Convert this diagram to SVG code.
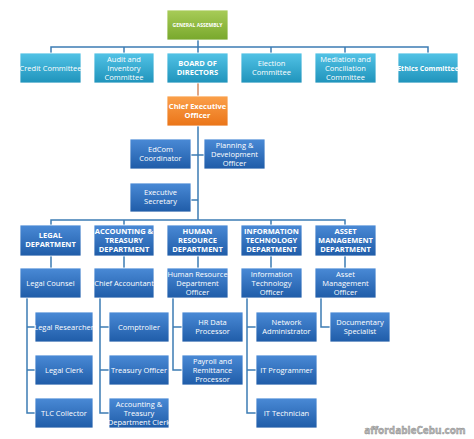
<svg xmlns="http://www.w3.org/2000/svg" width="474" height="439" viewBox="0 0 474 439">
<defs>
<linearGradient id="gc" x1="0" y1="0" x2="0" y2="1"><stop offset="0" stop-color="#52c3e6"/><stop offset="1" stop-color="#1f93bb"/></linearGradient>
<linearGradient id="gb" x1="0" y1="0" x2="0" y2="1"><stop offset="0" stop-color="#4a8ad6"/><stop offset="1" stop-color="#1f5ca8"/></linearGradient>
<linearGradient id="go" x1="0" y1="0" x2="0" y2="1"><stop offset="0" stop-color="#fba04a"/><stop offset="1" stop-color="#ea7418"/></linearGradient>
<linearGradient id="gg" x1="0" y1="0" x2="0" y2="1"><stop offset="0" stop-color="#a8cc58"/><stop offset="1" stop-color="#78a82c"/></linearGradient>
</defs>
<style>
rect{stroke:#ffffff;stroke-width:0.8}
.c{fill:url(#gc)}.b{fill:url(#gb)}
text{font-family:"Open Sans","DejaVu Sans",sans-serif;font-size:7.5px;fill:#ffffff;text-anchor:middle}
.t{font-weight:bold}
#connectors path{fill:none;stroke:#3c7cb4;stroke-width:1.5}
</style>
<rect width="474" height="439" fill="#ffffff" stroke="none"/>
<g id="connectors">
<path d="M198 40V53M51 53V47H428V53M124 47V53M271 47V53M345 47V53"/>
<path d="M198 83V96" style="stroke:#d48a60"/>
<path d="M198 126V220M191 155H204M191 200H198M51 225V220H345V225M124 220V225M271 220V225"/>
<path d="M51 256V268M124 256V268M198 256V268M271 256V268M345 256V268"/>
<path d="M27 298V413H35M27 327H35M27 370H35"/>
<path d="M100 298V413H109M100 327H109M100 370H109"/>
<path d="M173 298V370H182M173 327H182"/>
<path d="M247 298V413H256M247 327H256M247 370H256"/>
<path d="M321 298V327H330"/>
</g>
<g id="ga"><rect x="167" y="10" width="61" height="30" fill="url(#gg)"/><text x="197.5" y="27" style="font-size:5px" class="t">GENERAL ASSEMBLY</text></g>
<g id="credit"><rect class="c" x="20" y="53" width="61" height="30"/><text x="50.5" y="71">Credit Committee</text></g>
<g id="audit"><rect class="c" x="94" y="53" width="60" height="30"/><text x="124" y="62">Audit and</text><text x="124" y="71">Inventory</text><text x="124" y="80">Committee</text></g>
<g id="board"><rect class="c" x="167" y="53" width="61" height="30"/><text class="t" x="197.5" y="66">BOARD OF</text><text class="t" x="197.5" y="75">DIRECTORS</text></g>
<g id="election"><rect class="c" x="241" y="53" width="61" height="30"/><text x="271.5" y="66">Election</text><text x="271.5" y="75">Committee</text></g>
<g id="mediation"><rect class="c" x="315" y="53" width="61" height="30"/><text x="345.5" y="62">Mediation and</text><text x="345.5" y="71">Conciliation</text><text x="345.5" y="80">Committee</text></g>
<g id="ethics"><rect class="c" x="398" y="53" width="60" height="30"/><text class="t" x="428" y="71" style="font-size:7px">Ethics Committee</text></g>
<g id="ceo"><rect x="167" y="96" width="61" height="30" fill="url(#go)"/><text class="t" x="197.5" y="109">Chief Executive</text><text class="t" x="197.5" y="118">Officer</text></g>
<g id="edcom"><rect class="b" x="130" y="139" width="61" height="30"/><text x="160.5" y="152">EdCom</text><text x="160.5" y="161">Coordinator</text></g>
<g id="planning"><rect class="b" x="204" y="139" width="61" height="30"/><text x="234.5" y="148">Planning &amp;</text><text x="234.5" y="157">Development</text><text x="234.5" y="166">Officer</text></g>
<g id="exec"><rect class="b" x="130" y="183" width="61" height="29"/><text x="160.5" y="195">Executive</text><text x="160.5" y="204">Secretary</text></g>
<g id="legal"><rect class="b" x="20" y="225" width="61" height="31"/><text class="t" x="50.5" y="238">LEGAL</text><text class="t" x="50.5" y="247">DEPARTMENT</text></g>
<g id="acct"><rect class="b" x="94" y="225" width="60" height="31"/><text class="t" x="124" y="234">ACCOUNTING &amp;</text><text class="t" x="124" y="243">TREASURY</text><text class="t" x="124" y="252">DEPARTMENT</text></g>
<g id="hr"><rect class="b" x="167" y="225" width="61" height="31"/><text class="t" x="197.5" y="234">HUMAN</text><text class="t" x="197.5" y="243">RESOURCE</text><text class="t" x="197.5" y="252">DEPARTMENT</text></g>
<g id="it"><rect class="b" x="241" y="225" width="61" height="31"/><text class="t" x="271.5" y="234">INFORMATION</text><text class="t" x="271.5" y="243">TECHNOLOGY</text><text class="t" x="271.5" y="252">DEPARTMENT</text></g>
<g id="asset"><rect class="b" x="315" y="225" width="61" height="31"/><text class="t" x="345.5" y="234">ASSET</text><text class="t" x="345.5" y="243">MANAGEMENT</text><text class="t" x="345.5" y="252">DEPARTMENT</text></g>
<g id="counsel"><rect class="b" x="20" y="268" width="61" height="30"/><text x="50.5" y="286">Legal Counsel</text></g>
<g id="chiefacct"><rect class="b" x="94" y="268" width="60" height="30"/><text x="124" y="286">Chief Accountant</text></g>
<g id="hrofficer"><rect class="b" x="167" y="268" width="61" height="30"/><text x="197.5" y="277">Human Resource</text><text x="197.5" y="286">Department</text><text x="197.5" y="295">Officer</text></g>
<g id="itofficer"><rect class="b" x="241" y="268" width="61" height="30"/><text x="271.5" y="277">Information</text><text x="271.5" y="286">Technology</text><text x="271.5" y="295">Officer</text></g>
<g id="assetofficer"><rect class="b" x="315" y="268" width="61" height="30"/><text x="345.5" y="277">Asset</text><text x="345.5" y="286">Management</text><text x="345.5" y="295">Officer</text></g>
<g id="researcher"><rect class="b" x="35" y="312" width="58" height="30"/><text x="64" y="330">Legal Researcher</text></g>
<g id="clerk"><rect class="b" x="35" y="355" width="58" height="30"/><text x="64" y="373">Legal Clerk</text></g>
<g id="tlc"><rect class="b" x="35" y="398" width="58" height="30"/><text x="64" y="416">TLC Collector</text></g>
<g id="comptroller"><rect class="b" x="109" y="312" width="60" height="30"/><text x="139" y="330">Comptroller</text></g>
<g id="treasury"><rect class="b" x="109" y="355" width="60" height="30"/><text x="139" y="373">Treasury Officer</text></g>
<g id="atclerk"><rect class="b" x="109" y="398" width="60" height="30"/><text x="139" y="407">Accounting &amp;</text><text x="139" y="416">Treasury</text><text x="139" y="425">Department Clerk</text></g>
<g id="hrdata"><rect class="b" x="182" y="312" width="61" height="30"/><text x="212.5" y="325">HR Data</text><text x="212.5" y="334">Processor</text></g>
<g id="payroll"><rect class="b" x="182" y="355" width="61" height="30"/><text x="212.5" y="364">Payroll and</text><text x="212.5" y="373">Remittance</text><text x="212.5" y="382">Processor</text></g>
<g id="network"><rect class="b" x="256" y="312" width="61" height="30"/><text x="286.5" y="325">Network</text><text x="286.5" y="334">Administrator</text></g>
<g id="programmer"><rect class="b" x="256" y="355" width="61" height="30"/><text x="286.5" y="373">IT Programmer</text></g>
<g id="technician"><rect class="b" x="256" y="398" width="61" height="30"/><text x="286.5" y="416">IT Technician</text></g>
<g id="documentary"><rect class="b" x="330" y="312" width="60" height="30"/><text x="360" y="325">Documentary</text><text x="360" y="334">Specialist</text></g>
<text x="415" y="434" style="fill:#b8b8b8;font-size:10px;font-weight:bold;stroke:#888;stroke-width:0.4">affordableCebu.com</text>
</svg>
